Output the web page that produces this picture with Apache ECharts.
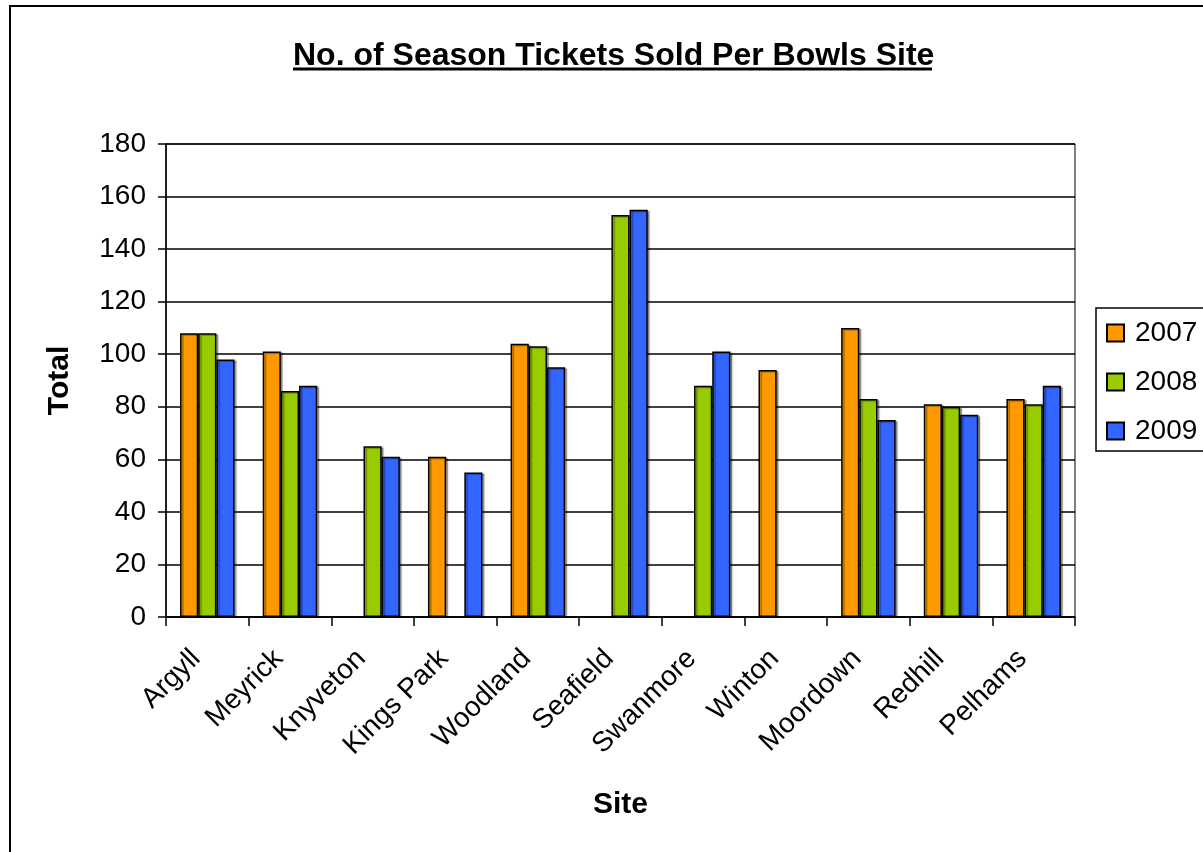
<!DOCTYPE html>
<html><head><meta charset="utf-8">
<script src="https://cdn.jsdelivr.net/npm/echarts@6/dist/echarts.min.js"></script>
<style>html,body{margin:0;padding:0;background:#fff}#c{width:1203px;height:852px}</style>
</head><body><div id="c"></div>
<script>
const categories = ['Argyll','Meyrick','Knyveton','Kings Park','Woodland','Seafield','Swanmore','Winton','Moordown','Redhill','Pelhams'];
const s2007 = [108, 101, null, 61, 104, null, null, 94, 110, 81, 83];
const s2008 = [108, 86, 65, null, 103, 153, 88, null, 83, 80, 81];
const s2009 = [98, 88, 61, 55, 95, 155, 101, null, 75, 77, 88];
const yTicks = [0,20,40,60,80,100,120,140,160,180];
const seriesNames = ['2007','2008','2009'];
const colors = ['#FF9900','#99CC00','#3366FF'];
const font = 'Arial, "Liberation Sans", sans-serif';

const chart = echarts.init(document.getElementById('c'));
const mk = (name, data, color) => ({
  name, type:'bar', data, barGap:'0%', barCategoryGap:'34%',
  itemStyle:{color, borderColor:'#000', borderWidth:1.5, shadowColor:'rgba(0,0,0,0.35)', shadowOffsetX:2, shadowOffsetY:1, shadowBlur:1},
  animation:false
});
chart.setOption({
  animation:false,
  title:{text:'No. of Season Tickets Sold Per Bowls Site', left:288, top:35, textStyle:{fontFamily:font, fontSize:32, fontWeight:'bold', color:'#000'}},
  legend:{orient:'vertical', left:1096, top:308, padding:[11,10,6,10], itemGap:21, itemWidth:17, itemHeight:17, borderColor:'#000', borderWidth:1.5,
    data:seriesNames, textStyle:{fontFamily:font, fontSize:28, color:'#000', padding:[0,20,0,6]}, icon:'rect'},
  grid:{left:166, right:128, top:144, bottom:235, show:true, borderColor:'#000', borderWidth:1},
  xAxis:{type:'category', data:categories, name:'Site', nameLocation:'middle', nameGap:173,
    nameTextStyle:{fontFamily:font, fontSize:30, fontWeight:'bold', color:'#000'},
    axisLine:{lineStyle:{color:'#000', width:1.5}},
    axisTick:{show:true, length:9, lineStyle:{color:'#000', width:1.5}},
    axisLabel:{rotate:45, fontFamily:font, fontSize:28, color:'#000', margin:26, padding:[0,16,0,0]}},
  yAxis:{type:'value', min:0, max:180, interval:20, name:'Total', nameLocation:'middle', nameGap:91,
    nameTextStyle:{fontFamily:font, fontSize:30, fontWeight:'bold', color:'#000'},
    axisLine:{show:true, lineStyle:{color:'#000', width:1.5}},
    axisTick:{show:true, length:8, lineStyle:{color:'#000', width:1.5}},
    axisLabel:{fontFamily:font, fontSize:28, color:'#000', margin:20, formatter:v=>yTicks.includes(v)?String(v):''},
    splitLine:{lineStyle:{color:'#000', width:1.5}}},
  graphic:[
    {type:'rect', shape:{x:10, y:6, width:1400, height:1000}, style:{fill:'none', stroke:'#000', lineWidth:2}, silent:true, z:-1},
    {type:'line', shape:{x1:293, y1:69, x2:932, y2:69}, style:{stroke:'#000', lineWidth:3}, silent:true}
  ],
  series:[mk(seriesNames[0], s2007, colors[0]), mk(seriesNames[1], s2008, colors[1]), mk(seriesNames[2], s2009, colors[2])]
});
</script></body></html>
